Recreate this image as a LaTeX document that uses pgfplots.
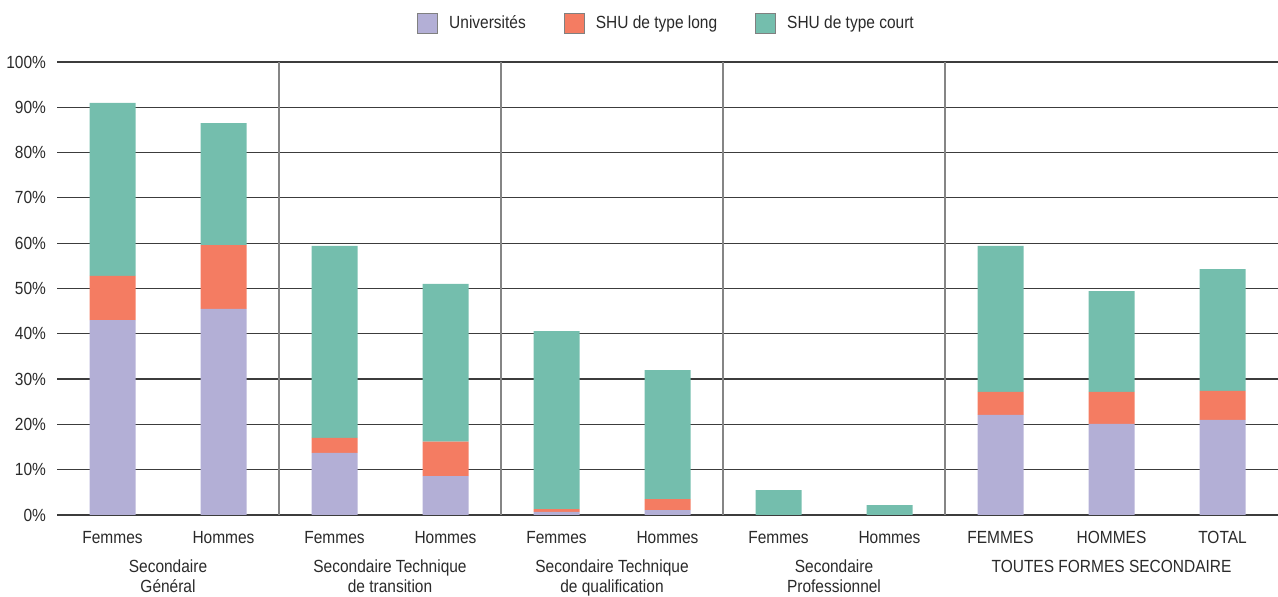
\documentclass[border=0pt]{standalone}
\usepackage{fontspec}
\setmainfont{Liberation Sans}[FakeStretch=0.88]
\usepackage{pgfplots}
\pgfplotsset{compat=1.18}
\definecolor{cuni}{HTML}{B3AFD6}
\definecolor{clong}{HTML}{F47C62}
\definecolor{ccourt}{HTML}{74BEAD}
\definecolor{gridc}{HTML}{3C3C3C}
\definecolor{sepc}{HTML}{858585}
\definecolor{textc}{HTML}{2A2A2A}
\tikzset{grp/.style={font=\fontsize{8.8}{10}\selectfont, text=textc, align=center, anchor=north, yshift=-19pt}}
\begin{document}
\begin{tikzpicture}
\begin{axis}[
  scale only axis, width=610.5pt, height=226.5pt,
  ybar stacked, bar width=23pt,
  xmin=-0.5, xmax=10.5, ymin=0, ymax=100,
  xtick={0,...,10},
  xticklabels={Femmes,Hommes,Femmes,Hommes,Femmes,Hommes,Femmes,Hommes,FEMMES,HOMMES,TOTAL},
  ytick={0,10,...,100},
  yticklabel={\pgfmathprintnumber{\tick}\%},
  /pgf/number format/assume math mode=true,
  major tick length=0pt,
  axis line style={draw=none},
  ymajorgrids, grid style={gridc, line width=0.6pt},
  tick label style={font=\fontsize{8.8}{10}\selectfont, text=textc},
  xticklabel style={yshift=-4.5pt},
  yticklabel style={xshift=-2pt},
  clip=false,
  legend style={at={(0.5,1)}, anchor=south, yshift=11pt, draw=none,
    font=\fontsize{8.8}{10}\selectfont, text=textc,
    /tikz/every odd column/.append style={column sep=3.5pt},
    /tikz/every even column/.append style={column sep=17pt}},
  legend columns=3,
  legend image code/.code={\draw[#1, draw=gray, line width=0.5pt] (0pt,-5pt) rectangle (10pt,5pt);},
]
\addplot[fill=cuni, draw=none] coordinates {(0,43.0) (1,45.5) (2,13.7) (3,8.6) (4,0.7) (5,1.1) (6,0) (7,0) (8,22.1) (9,20.1) (10,21.0)};
\addplot[fill=clong, draw=none] coordinates {(0,9.8) (1,14.1) (2,3.3) (3,7.6) (4,0.6) (5,2.4) (6,0) (7,0) (8,5.1) (9,7.1) (10,6.4)};
\addplot[fill=ccourt, draw=none] coordinates {(0,38.2) (1,26.9) (2,42.4) (3,34.8) (4,39.3) (5,28.5) (6,5.5) (7,2.2) (8,32.2) (9,22.2) (10,26.9)};
\legend{Universités, SHU de type long, SHU de type court}
\draw[sepc, line width=0.9pt] (axis cs:1.5,0) -- (axis cs:1.5,100);
\draw[sepc, line width=0.9pt] (axis cs:3.5,0) -- (axis cs:3.5,100);
\draw[sepc, line width=0.9pt] (axis cs:5.5,0) -- (axis cs:5.5,100);
\draw[sepc, line width=0.9pt] (axis cs:7.5,0) -- (axis cs:7.5,100);
\node[grp] at (axis cs:0.5,0) {Secondaire\\Général};
\node[grp] at (axis cs:2.5,0) {Secondaire Technique\\de transition};
\node[grp] at (axis cs:4.5,0) {Secondaire Technique\\de qualification};
\node[grp] at (axis cs:6.5,0) {Secondaire\\Professionnel};
\node[grp] at (axis cs:9,0) {TOUTES FORMES SECONDAIRE};
\path (rel axis cs:0,0) coordinate (bl);
\path (rel axis cs:1,1) coordinate (tr);
\end{axis}
\pgfresetboundingbox
\path ([xshift=-28.5pt,yshift=-41pt]bl) rectangle ([yshift=31pt]tr);
\end{tikzpicture}
\end{document}
